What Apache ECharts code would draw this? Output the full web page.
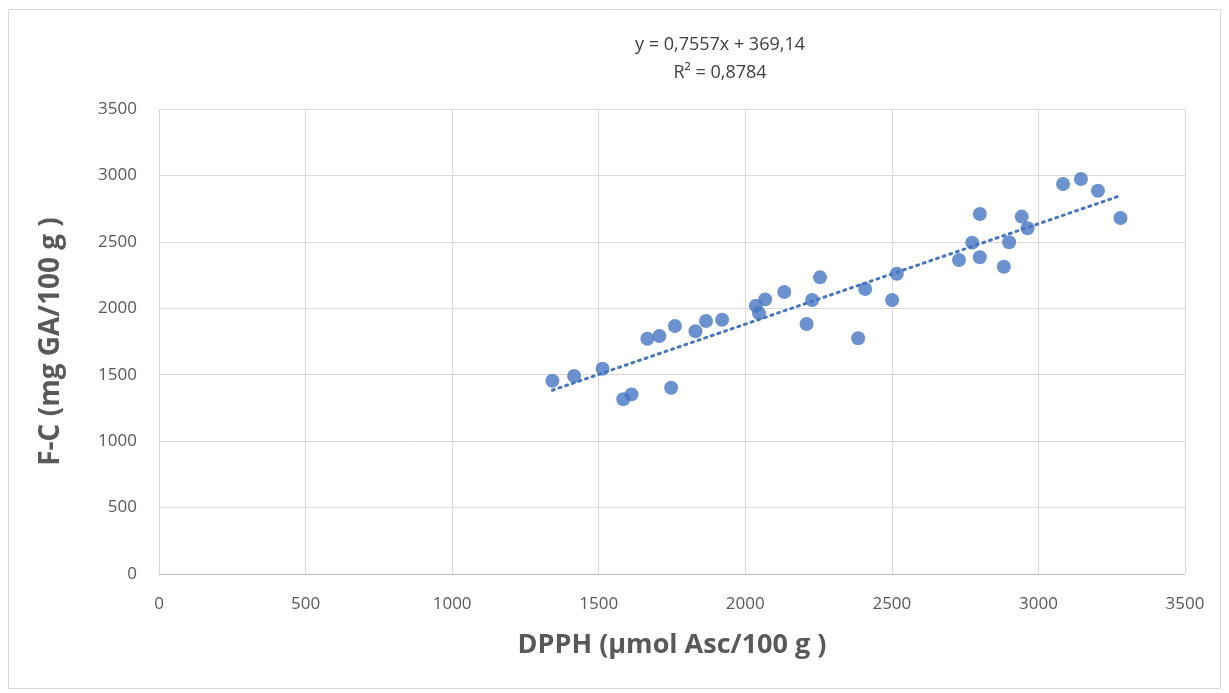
<!DOCTYPE html>
<html>
<head>
<meta charset="utf-8">
<script src="https://cdn.jsdelivr.net/npm/echarts@6/dist/echarts.min.js"></script>
<style>
  html, body { margin: 0; padding: 0; background: #fff; }
  #chart { width: 1229px; height: 693px; }
</style>
</head>
<body>
<div id="chart"></div>
<script>
// DPPH values (x) and F-C values (y)
var dpph = [1342, 1416, 1513, 1584, 1612, 1666, 1707, 1747, 1760, 1830, 1866, 1921,
            2036, 2047, 2068, 2133, 2209, 2228, 2255, 2385, 2409, 2501, 2517,
            2729, 2774, 2800, 2800, 2882, 2900, 2943, 2963, 3084, 3145, 3203, 3280];
var fc   = [1455, 1490, 1545, 1315, 1352, 1771, 1791, 1402, 1867, 1827, 1904, 1914,
            2020, 1962, 2067, 2123, 1882, 2062, 2233, 1775, 2145, 2062, 2260,
            2363, 2494, 2384, 2710, 2313, 2497, 2690, 2602, 2935, 2973, 2885, 2680];
var slope = 0.7557, intercept = 369.14;
var eqText = ['y = 0,7557x + 369,14', 'R² = 0,8784'];
var axisTicks = [0, 500, 1000, 1500, 2000, 2500, 3000, 3500];

var points = [];
for (var i = 0; i < dpph.length; i++) {
    points.push([dpph[i], fc[i]]);
}
var xMin = Math.min.apply(null, dpph), xMax = Math.max.apply(null, dpph);
var trend = [[xMin, slope * xMin + intercept], [xMax, slope * xMax + intercept]];

var font = '"Open Sans", "Noto Sans", sans-serif';
var chart = echarts.init(document.getElementById('chart'));
var option = {
    animation: false,
    backgroundColor: '#fff',
    grid: { left: 159, right: 44, top: 109, bottom: 119 },
    graphic: [
        { type: 'rect', shape: { x: 8.5, y: 9.5, width: 1212, height: 679 },
          style: { fill: null, stroke: '#d9d9d9', lineWidth: 1 }, silent: true },
        { type: 'text', x: 720, y: 31, style: {
            text: eqText.join('\n'), textAlign: 'center', fill: '#404040',
            font: '18px ' + font, lineHeight: 28 } }
    ],
    xAxis: {
        type: 'value', min: axisTicks[0], max: axisTicks[axisTicks.length - 1], interval: 500,
        name: 'DPPH (µmol Asc/100 g )', nameLocation: 'middle', nameGap: 58,
        nameTextStyle: { fontSize: 27, fontWeight: 'bold', color: '#595959', fontFamily: font },
        axisLine: { show: true, lineStyle: { color: '#bfbfbf', width: 1 } },
        axisTick: { show: false },
        axisLabel: { color: '#595959', fontSize: 17, margin: 22, fontFamily: font,
                     formatter: function (v) { return String(v); } },
        splitLine: { lineStyle: { color: '#d9d9d9', width: 1 } }
    },
    yAxis: {
        type: 'value', min: axisTicks[0], max: axisTicks[axisTicks.length - 1], interval: 500,
        name: 'F-C (mg GA/100 g )', nameLocation: 'middle', nameGap: 94,
        nameTextStyle: { fontSize: 28, fontWeight: 'bold', color: '#595959', fontFamily: font },
        axisLine: { show: false },
        axisTick: { show: false },
        axisLabel: { color: '#595959', fontSize: 17, margin: 22, fontFamily: font,
                     formatter: function (v) { return String(v); } },
        splitLine: { lineStyle: { color: '#d9d9d9', width: 1 } }
    },
    series: [
        {
            type: 'scatter', data: points, symbol: 'circle', symbolSize: 14,
            itemStyle: { color: '#4675c2' }, z: 3
        },
        {
            type: 'line', data: trend, symbol: 'none', silent: true,
            lineStyle: { color: '#4675c2', width: 3, type: [2, 5], cap: 'round' }, z: 2
        }
    ]
};
chart.setOption(option);
</script>
</body>
</html>
